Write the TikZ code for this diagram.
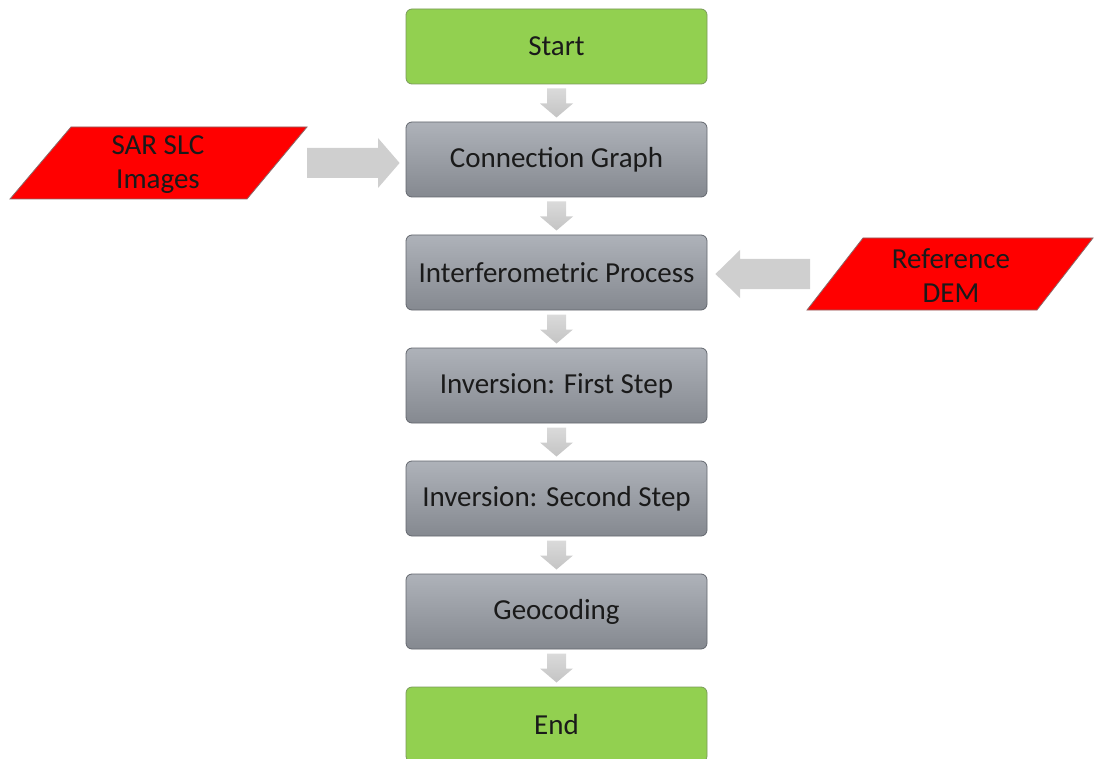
\documentclass[tikz,border=0pt]{standalone}
\usepackage{fontspec}
\setmainfont{Carlito}
\usetikzlibrary{calc}
\definecolor{boxgreen}{HTML}{92D050}
\definecolor{greenedge}{HTML}{7A9A5A}
\definecolor{graytop}{HTML}{AEB2B9}
\definecolor{graybot}{HTML}{858990}
\definecolor{grayedge}{HTML}{63676E}
\definecolor{arrowtop}{HTML}{DADADA}
\definecolor{arrowbot}{HTML}{C4C4C4}
\definecolor{inputred}{HTML}{FF0000}
\definecolor{inputedge}{HTML}{8A6A6A}
\definecolor{txt}{HTML}{1A1A1A}
\tikzset{
  stepbox/.style={rounded corners=6pt, minimum width=301pt, minimum height=75pt,
    inner sep=0pt, text=txt, font=\fontsize{29}{33}\selectfont},
  termbox/.style={stepbox, fill=boxgreen, draw=greenedge, line width=0.8pt},
  procbox/.style={stepbox, top color=graytop, bottom color=graybot, draw=grayedge, line width=0.8pt},
  inputtext/.style={text=txt, align=center, font=\fontsize{29}{34}\selectfont, inner sep=0pt},
  inputshape/.style={fill=inputred, draw=inputedge, line width=0.8pt},
  blockarrow/.style={top color=arrowtop, bottom color=arrowbot, draw=none},
  sidearrow/.style={fill=arrowtop!95!black, draw=none},
  pics/downarr/.style={code={
    \path[blockarrow] (-9.5,-14.5) -- (9.5,-14.5) -- (9.5,0.5) -- (16.5,0.5)
      -- (0,14.5) -- (-16.5,0.5) -- (-9.5,0.5) -- cycle;
  }}
}
\begin{document}
\begin{tikzpicture}[x=1pt,y=-1pt]
\useasboundingbox (0,0) rectangle (1094,759);

% main chain of process steps
\node[termbox] (start) at (556.5,46.5) {Start};
\node[procbox] (graph) at (556.5,159.5) {Connection Graph};
\node[procbox] (interf) at (556.5,272.5) {Interferometric Process};
\node[procbox] (inv1) at (556.5,385.5) {Inversion: First Step};
\node[procbox] (inv2) at (556.5,498.5) {Inversion: Second Step};
\node[procbox] (geo) at (556.5,611.5) {Geocoding};
\node[termbox] (end) at (556.5,724.5) {End};

% downward block arrows between consecutive steps
\foreach \a/\b in {start/graph, graph/interf, interf/inv1, inv1/inv2, inv2/geo, geo/end}
  \pic at ($(\a.south)!0.5!(\b.north)$) {downarr};

% input data (parallelograms)
\path[inputshape] (71,127) -- (307,127) -- (247,199) -- (10,199) -- cycle;
\node[inputtext] (sar) at (158,165) {SAR SLC\\Images};
\path[inputshape] (863,238) -- (1093,238) -- (1037,310) -- (807,310) -- cycle;
\node[inputtext] (dem) at (951,276) {Reference\\DEM};

% side block arrows feeding the inputs in
\coordinate (sarout) at (307,163);
\coordinate (demout) at (810,274);
\path[sidearrow] ($(sarout)+(0,-15)$) -- ($(sarout)+(71,-15)$) -- ($(sarout)+(71,-25)$)
  -- ($(graph.west|-sarout)+(-6,0)$) -- ($(sarout)+(71,25)$) -- ($(sarout)+(71,15)$)
  -- ($(sarout)+(0,15)$) -- cycle;
\path[sidearrow] ($(demout)+(0,-15)$) -- ($(demout)+(-70,-15)$) -- ($(demout)+(-70,-24)$)
  -- ($(interf.east|-demout)+(8,0)$) -- ($(demout)+(-70,24)$) -- ($(demout)+(-70,15)$)
  -- ($(demout)+(0,15)$) -- cycle;
\end{tikzpicture}
\end{document}
